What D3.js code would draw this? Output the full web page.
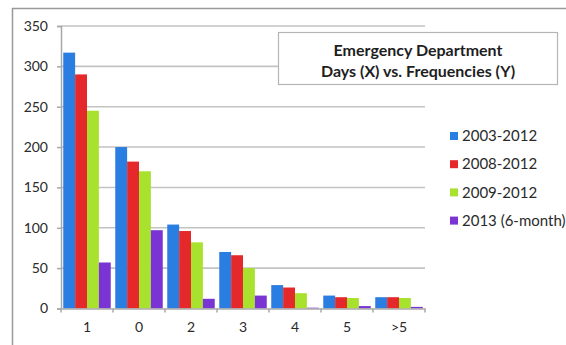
<!DOCTYPE html>
<html>
<head>
<meta charset="utf-8">
<script src="https://cdn.jsdelivr.net/npm/d3@7"></script>
<style>
  html, body { margin: 0; padding: 0; background: #fff; }
  svg { display: block; }
  text { font-family: Lato, "Liberation Sans", sans-serif; fill: #333; }
</style>
</head>
<body>
<svg id="chart" width="566" height="345"></svg>
<script>
// Emergency department stays: days (X) vs. frequencies (Y)
const categories = ["1", "0", "2", "3", "4", "5", ">5"];
const seriesNames = ["2003-2012", "2008-2012", "2009-2012", "2013 (6-month)"];
const values2003to2012 = [317, 200, 104, 70, 29, 16, 14];
const values2008to2012 = [290, 182, 96, 66, 26, 14, 14];
const values2009to2012 = [245, 170, 82, 50, 19, 13, 13];
const values2013 = [57, 97, 12, 16, 1, 3, 2];
const yTicks = [0, 50, 100, 150, 200, 250, 300, 350];
const titleLines = ["Emergency Department", "Days (X) vs. Frequencies (Y)"];

const seriesValues = [values2003to2012, values2008to2012, values2009to2012, values2013];
const colors = ["#2a7de1", "#e5292a", "#a8e22f", "#7a34d4"];

const svg = d3.select("#chart");

// outer chart frame (left and top edges visible)
svg.append("line").attr("x1", 12.5).attr("x2", 12.5).attr("y1", 8).attr("y2", 345)
  .attr("stroke", "#999").attr("stroke-width", 1.5);
svg.append("line").attr("x1", 12).attr("x2", 566).attr("y1", 8.5).attr("y2", 8.5)
  .attr("stroke", "#999").attr("stroke-width", 1.5);

const plot = { left: 61, right: 425, top: 26, bottom: 308.5 };

const x = d3.scaleBand().domain(categories).range([plot.left, plot.right]).paddingInner(0).paddingOuter(0);
const xInner = d3.scaleBand().domain(d3.range(seriesNames.length))
  .range([0, x.bandwidth()]).paddingInner(0).paddingOuter(0.19);
const y = d3.scaleLinear().domain([0, 350]).range([plot.bottom, plot.top]);

// horizontal gridlines
svg.append("g").selectAll("line").data(yTicks.filter(d => d > 0)).join("line")
  .attr("x1", plot.left).attr("x2", plot.right)
  .attr("y1", d => y(d)).attr("y2", d => y(d))
  .attr("stroke", "#c3c3c3").attr("stroke-width", 1.6);

// bars
const groups = svg.append("g").selectAll("g").data(categories).join("g")
  .attr("transform", c => `translate(${x(c)},0)`);
groups.selectAll("rect")
  .data((c, i) => seriesValues.map((vals, s) => ({ s, v: vals[i] })))
  .join("rect")
  .attr("x", d => xInner(d.s))
  .attr("width", xInner.bandwidth())
  .attr("y", d => y(d.v))
  .attr("height", d => y(0) - y(d.v))
  .attr("fill", d => colors[d.s]);

// y axis
const yAxis = svg.append("g").attr("transform", `translate(${plot.left},0)`)
  .call(d3.axisLeft(y).tickValues(yTicks).tickSize(4).tickPadding(9));
yAxis.select(".domain").attr("stroke", "#a8a8a8").attr("stroke-width", 1.5);
yAxis.selectAll(".tick line").attr("stroke", "#a8a8a8").attr("stroke-width", 1.5);
yAxis.selectAll("text").style("font-size", "14px").style("fill", "#2a2a2a")
  .style("font-family", "Lato, 'Liberation Sans', sans-serif");

// x axis
const xAxis = svg.append("g").attr("transform", `translate(0,${plot.bottom})`)
  .call(d3.axisBottom(x).tickSize(0).tickPadding(14));
xAxis.select(".domain").attr("stroke", "#a8a8a8").attr("stroke-width", 1.5);
xAxis.selectAll("text").style("font-size", "14px").style("fill", "#2a2a2a")
  .style("font-family", "Lato, 'Liberation Sans', sans-serif");
// category separator ticks
svg.append("g").selectAll("line")
  .data(categories.map(c => x(c)).concat([plot.right]))
  .join("line")
  .attr("x1", d => d).attr("x2", d => d)
  .attr("y1", plot.bottom).attr("y2", plot.bottom + 4)
  .attr("stroke", "#a8a8a8").attr("stroke-width", 1.5);

// title box
svg.append("rect").attr("x", 278.5).attr("y", 32.5).attr("width", 279).attr("height", 52)
  .attr("fill", "#fff").attr("stroke", "#b5b5b5").attr("stroke-width", 1.2);
svg.append("g").selectAll("text").data(titleLines).join("text")
  .attr("x", 418).attr("y", (d, i) => 55.5 + i * 21.5)
  .attr("text-anchor", "middle")
  .style("font-size", "16px").style("font-weight", "bold").style("fill", "#1e1e1e")
  .text(d => d);

// legend
const legend = svg.append("g").selectAll("g").data(seriesNames).join("g")
  .attr("transform", (d, i) => `translate(450,${136 + i * 28.2})`);
legend.append("rect").attr("x", 0).attr("y", -4).attr("width", 8).attr("height", 8)
  .attr("fill", (d, i) => colors[i]);
legend.append("text").attr("x", 12).attr("y", 0).attr("dy", "0.35em")
  .style("font-size", "15px").style("fill", "#2a2a2a").text(d => d);
</script>
</body>
</html>
